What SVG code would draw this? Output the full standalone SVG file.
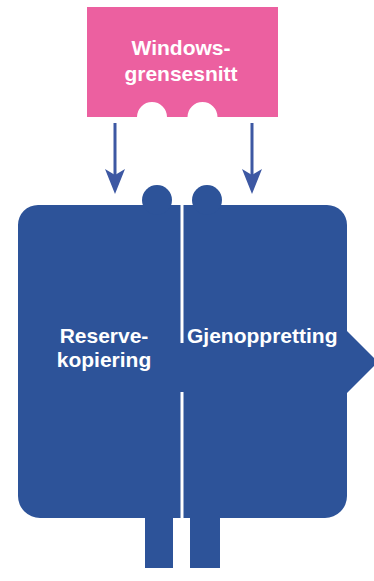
<svg xmlns="http://www.w3.org/2000/svg" width="374" height="581" viewBox="0 0 374 581">
<style>
.lbl{font-family:"Liberation Sans",Arial,sans-serif;font-weight:bold;font-size:21px;fill:#ffffff}
.conn{stroke:#3d58a3;stroke-width:3;fill:none}
</style>
<defs>
<marker id="ah" markerUnits="userSpaceOnUse" markerWidth="26" markerHeight="22" viewBox="0 0 26 22" refX="15" refY="11" orient="auto">
<path d="M0,1 L25,11 L0,21 L6,11 Z" fill="#3d58a3"/>
</marker>
</defs>
<rect width="374" height="581" fill="#ffffff"/>
<g id="windows-node">
<path d="M87,7 H278 V117 H217.5 A15,15 0 1 0 187.5,117 H167 A15,15 0 1 0 137,117 H87 Z" fill="#ec60a0"/>
<text class="lbl" x="181" y="55" text-anchor="middle">Windows-</text>
<text class="lbl" x="181" y="81" text-anchor="middle">grensesnitt</text>
</g>
<g id="main-node">
<path d="M38,205 H327 A20,20 0 0 1 347,225 V331 L378,362 L347,393 V496 A22,22 0 0 1 325,518 H220 V568 H190 V518 H173 V568 H145 V518 H40 A22,22 0 0 1 18,496 V225 A20,20 0 0 1 38,205 Z" fill="#2d5399"/>
<circle cx="157" cy="200" r="15" fill="#2d5399"/>
<circle cx="207" cy="200" r="15" fill="#2d5399"/>
<rect x="180.5" y="184" width="3" height="159" fill="#ffffff"/>
<rect x="180.5" y="392" width="3" height="180" fill="#ffffff"/>
<text class="lbl" x="104" y="343" text-anchor="middle">Reserve-</text>
<text class="lbl" x="104" y="367" text-anchor="middle">kopiering</text>
<text class="lbl" x="187" y="343">Gjenoppretting</text>
</g>
<g id="connectors">
<line class="conn" x1="115" y1="123" x2="115" y2="184" marker-end="url(#ah)"/>
<line class="conn" x1="252" y1="123" x2="252" y2="184" marker-end="url(#ah)"/>
</g>
</svg>
